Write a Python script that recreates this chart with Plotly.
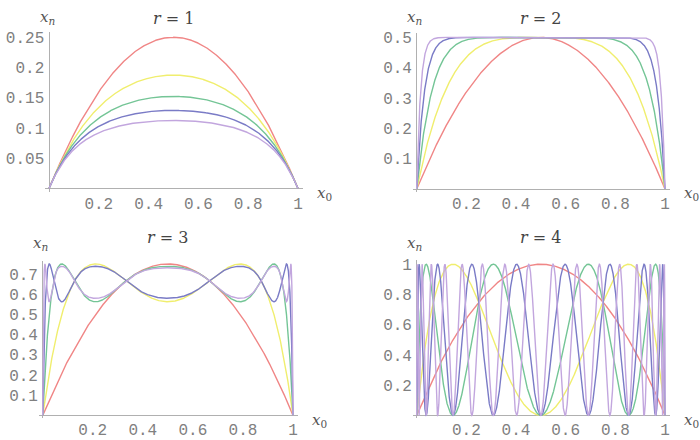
import numpy as np
import plotly.graph_objects as go

# Chart definition: iterates x_n of the logistic map x -> r x (1 - x)
r_values = [1, 2, 3, 4]
n_iterations = [1, 2, 3, 4, 5]
series_colors = ["#f08686", "#f0ee6e", "#74c596", "#7a7bc6", "#c2a6de"]
panel_titles = ["<i>r</i> = 1", "<i>r</i> = 2", "<i>r</i> = 3", "<i>r</i> = 4"]
x_ticks = [0.2, 0.4, 0.6, 0.8, 1]
x_tick_text = ["0.2", "0.4", "0.6", "0.8", "1"]
y_ticks = [
    [0.05, 0.1, 0.15, 0.2, 0.25],
    [0.1, 0.2, 0.3, 0.4, 0.5],
    [0.1, 0.2, 0.3, 0.4, 0.5, 0.6, 0.7],
    [0.2, 0.4, 0.6, 0.8, 1],
]
y_tick_text = [
    ["0.05", "0.1", "0.15", "0.2", "0.25"],
    ["0.1", "0.2", "0.3", "0.4", "0.5"],
    ["0.1", "0.2", "0.3", "0.4", "0.5", "0.6", "0.7"],
    ["0.2", "0.4", "0.6", "0.8", "1"],
]

W, H = 700, 440
x0_grid = np.linspace(0, 1, 3001)

panels = [
    (49, 298, 188, 616.8, [-0.015, 1.02], [-0.005, 0.258]),
    (416.7, 665, 188.5, 309.0, [-0.015, 1.02], [-0.01, 0.516]),
    (42.7, 293, 419, 205.7, [-0.015, 1.02], [-0.015, 0.765]),
    (416.7, 665, 419, 154.0, [-0.015, 1.02], [-0.02, 1.025]),
]

SERIF = "DejaVu Serif"
MONO = "Liberation Mono"

fig = go.Figure()
axis_gray = "#b0b0b0"
tick_font = dict(family=MONO, size=16, color="#808080")

for i, (r, title) in enumerate(zip(r_values, panel_titles)):
    px0, px1, py0, sy, xr, yr = panels[i]
    sx = px1 - px0
    left = px0 + xr[0] * sx
    right = px0 + xr[1] * sx
    bottom = py0 - yr[0] * sy
    top = py0 - yr[1] * sy
    xd = [left / W, right / W]
    yd = [1 - bottom / H, 1 - top / H]
    k = "" if i == 0 else str(i + 1)
    x = x0_grid.copy()
    for n, c in zip(n_iterations, series_colors):
        x = r * x * (1 - x)
        fig.add_trace(go.Scatter(
            x=x0_grid, y=x.copy(), mode="lines",
            line=dict(color=c, width=1.4), xaxis="x" + k, yaxis="y" + k,
            showlegend=False, hoverinfo="skip",
        ))
    fig.layout["xaxis" + k] = dict(
        domain=xd, range=xr, anchor="y" + k, showgrid=False, showline=False,
        zeroline=True, zerolinecolor=axis_gray, zerolinewidth=1.2,
        tickvals=x_ticks, ticktext=x_tick_text, tickfont=tick_font, ticks="",
    )
    fig.layout["yaxis" + k] = dict(
        domain=yd, range=yr, anchor="x" + k, showgrid=False, showline=False,
        zeroline=True, zerolinecolor=axis_gray, zerolinewidth=1.2,
        tickvals=y_ticks[i], ticktext=y_tick_text[i], tickfont=tick_font, ticks="",
    )
    fig.add_annotation(
        x=(px0 + 0.5 * sx) / W, y=1 - (15 if i < 2 else 238) / H, xref="paper", yref="paper",
        text=title, showarrow=False, font=dict(family=SERIF, size=16, color="#444"),
        xanchor="center", yanchor="middle",
    )
    fig.add_annotation(
        x=(px0 - 2) / W, y=1 - (14 if i < 2 else 244) / H, xref="paper", yref="paper",
        text="<i>x<sub>n</sub></i>", showarrow=False,
        font=dict(family=SERIF, size=15, color="#555"),
        xanchor="center", yanchor="middle",
    )
    fig.add_annotation(
        x=(px1 + 26) / W, y=1 - (py0 + 5) / H, xref="paper", yref="paper",
        text="<i>x</i><sub>0</sub>", showarrow=False,
        font=dict(family=SERIF, size=15, color="#555"),
        xanchor="center", yanchor="middle",
    )

fig.update_layout(
    width=W, height=H, margin=dict(l=0, r=0, t=0, b=0),
    paper_bgcolor="white", plot_bgcolor="white",
)
fig.write_html("out.html")
